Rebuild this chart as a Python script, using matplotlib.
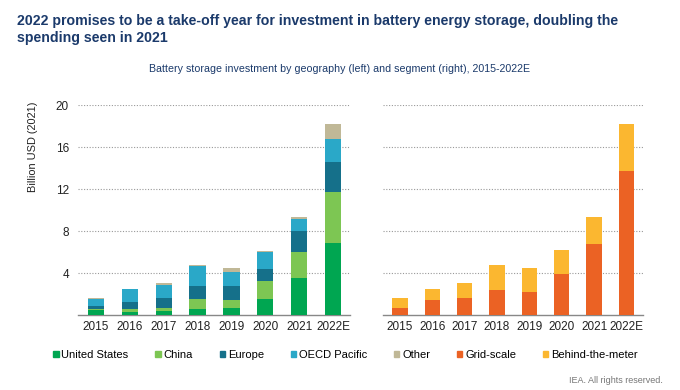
import numpy as np
import matplotlib
matplotlib.use("Agg")
import matplotlib.pyplot as plt
from matplotlib.patches import Patch

plt.rcParams['font.family'] = ['Liberation Sans', 'DejaVu Sans']

years = ["2015", "2016", "2017", "2018", "2019", "2020", "2021", "2022E"]

# geography split (billion USD 2021)
us = [0.48, 0.32, 0.38, 0.57, 0.63, 1.56, 3.56, 6.85]
china = [0.09, 0.22, 0.25, 0.95, 0.83, 1.68, 2.44, 4.85]
europe = [0.29, 0.66, 0.96, 1.28, 1.30, 1.17, 2.00, 2.90]
oecd_pac = [0.66, 1.28, 1.31, 1.90, 1.37, 1.62, 1.11, 2.13]
other = [0.08, 0.02, 0.15, 0.03, 0.37, 0.10, 0.19, 1.47]

# segment split
grid_scale = [0.70, 1.43, 1.60, 2.40, 2.19, 3.94, 6.73, 13.70]
behind_meter = [0.90, 1.07, 1.45, 2.33, 2.31, 2.22, 2.57, 4.50]

geo_series = [us, china, europe, oecd_pac, other]
geo_names = ["United States", "China", "Europe", "OECD Pacific", "Other"]
geo_colors = ["#00a651", "#7dc653", "#15708a", "#2aa8c8", "#c0b897"]
seg_series = [grid_scale, behind_meter]
seg_names = ["Grid-scale", "Behind-the-meter"]
seg_colors = ["#eb6224", "#fbb730"]

navy = "#1b3a6b"

fig = plt.figure(figsize=(6.8, 3.9), dpi=100)
ax1 = fig.add_axes([0.1147, 0.1923, 0.40, 0.538])
ax2 = fig.add_axes([0.563, 0.1923, 0.382, 0.538])

x = np.arange(len(years))
w = 0.48


def stack(ax, series, colors):
    bottom = np.zeros(len(years))
    for vals, c in zip(series, colors):
        ax.bar(x, vals, w, bottom=bottom, color=c, zorder=3)
        bottom += np.array(vals)


stack(ax1, geo_series, geo_colors)
stack(ax2, seg_series, seg_colors)

for ax in (ax1, ax2):
    ax.set_ylim(0, 20)
    ax.set_xlim(-0.53, 7.5)
    ax.set_yticks([4, 8, 12, 16, 20])
    ax.set_xticks(x)
    ax.set_xticklabels(years, fontsize=8.5, color="#222222")
    ax.yaxis.grid(True, linestyle=(0, (1, 1.5)), color="#999999", linewidth=0.8, zorder=0)
    for s in ("top", "right", "left"):
        ax.spines[s].set_visible(False)
    ax.spines["bottom"].set_color("#888888")
    ax.spines["bottom"].set_linewidth(1.0)
    ax.tick_params(axis="both", length=0, pad=4)

ax1.tick_params(axis="y", labelsize=8.5, labelcolor="#222222", pad=6.5)
ax1.set_ylabel("Billion USD (2021)", fontsize=7.9, color="#222222")
ax1.yaxis.set_label_coords(-0.147, 0.8)
ax2.set_yticklabels([])

fig.text(0.025, 0.925, "2022 promises to be a take-off year for investment in battery energy storage, doubling the\nspending seen in 2021",
         fontsize=10.2, fontweight="bold", color=navy, ha="left", va="center", linespacing=1.25)
fig.text(0.5, 0.823, "Battery storage investment by geography (left) and segment (right), 2015-2022E",
         fontsize=7.7, color=navy, ha="center", va="center")

handles = [Patch(color=c) for c in geo_colors + seg_colors]
fig.legend(handles, geo_names + seg_names, loc="center", bbox_to_anchor=(0.508, 0.09), ncol=7,
           frameon=False, fontsize=8, handlelength=0.5, handleheight=0.5, handletextpad=0.25,
           columnspacing=2.4)

fig.text(0.975, 0.025, "IEA. All rights reserved.", fontsize=6.5, color="#777777", ha="right", va="center")

fig.savefig("out.png", dpi=100)
